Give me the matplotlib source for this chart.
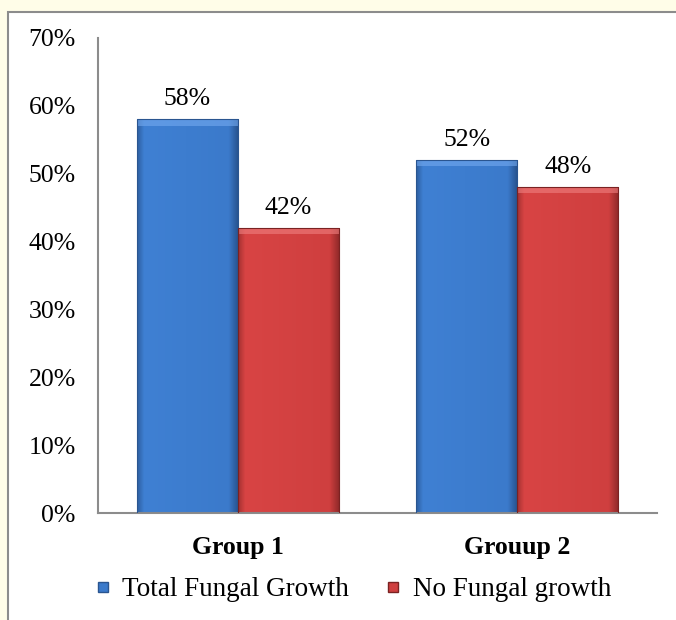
import numpy as np
import matplotlib
matplotlib.use("Agg")
import matplotlib.pyplot as plt
from matplotlib.patches import Rectangle
from matplotlib.lines import Line2D
from matplotlib.colors import LinearSegmentedColormap

groups = ["Group 1", "Grouup 2"]
series_names = ["Total Fungal Growth", "No Fungal growth"]
total_growth = [58, 52]
no_growth = [42, 48]
y_ticks = [0, 10, 20, 30, 40, 50, 60, 70]

plt.rcParams["font.family"] = ["Liberation Serif", "DejaVu Serif"]

fig = plt.figure(figsize=(6.76, 6.2), dpi=100)
fig.patch.set_facecolor("#fffde8")

# white chart area with a grey frame
frame = Rectangle((8 / 676, -0.05), 1.0, 1 - 12 / 620 + 0.05,
                  transform=fig.transFigure, facecolor="white",
                  edgecolor="#8c8c8c", linewidth=1.5, zorder=-5)
fig.patches.append(frame)

ax = fig.add_axes([98 / 676, 1 - 513 / 620, 559 / 676, (513 - 38) / 620])
ax.set_facecolor("none")

x = np.arange(len(groups))
w = 0.362

blue_cmap = LinearSegmentedColormap.from_list(
    "b", [(0, "#2d5e9f"), (0.07, "#3f80d3"), (0.9, "#3b7acb"), (1, "#26508a")])
red_cmap = LinearSegmentedColormap.from_list(
    "r", [(0, "#a33030"), (0.07, "#d84444"), (0.9, "#cf3f3f"), (1, "#8c2828")])

def draw_bars(xs, vals, cmap, edge, top):
    bars = ax.bar(xs, vals, w, color="none", edgecolor=edge, linewidth=0.8, zorder=3)
    grad = np.linspace(0, 1, 256).reshape(1, -1)
    for b in bars:
        x0, y0 = b.get_x(), b.get_y()
        bw, bh = b.get_width(), b.get_height()
        im = ax.imshow(grad, cmap=cmap, aspect="auto",
                       extent=(x0, x0 + bw, y0, y0 + bh), zorder=2)
        im.set_clip_path(b)
        ax.add_patch(Rectangle((x0, y0 + bh - 0.9), bw, 0.9, facecolor=top,
                               edgecolor="none", alpha=0.6, zorder=2.5))
    return bars

b1 = draw_bars(x - w / 2, total_growth, blue_cmap, "#2a5590", "#74aaf0")
b2 = draw_bars(x + w / 2, no_growth, red_cmap, "#7a2222", "#f08080")

for bars, vals in ((b1, total_growth), (b2, no_growth)):
    for b, v in zip(bars, vals):
        ax.text(b.get_x() + b.get_width() / 2, v + 3.0, f"{v}%",
                ha="center", va="center", fontsize=18.5)

ax.set_xlim(-0.5, 1.5)
ax.set_ylim(0, 70)
ax.set_yticks(y_ticks)
ax.set_yticklabels([f"{t}%" for t in y_ticks], fontsize=18.5)
ax.set_xticks(x)
ax.set_xticklabels(groups, fontsize=18.5, fontweight="bold")
ax.tick_params(axis="both", length=0)
ax.tick_params(axis="y", pad=16)
ax.tick_params(axis="x", pad=16.5)
for s in ("top", "right"):
    ax.spines[s].set_visible(False)
for s in ("left", "bottom"):
    ax.spines[s].set_color("#8c8c8c")
    ax.spines[s].set_linewidth(1.5)

handles = [Line2D([], [], linestyle="none", marker="s", markersize=7.5,
                  markerfacecolor="#3b7acb", markeredgecolor="#2a5590"),
           Line2D([], [], linestyle="none", marker="s", markersize=7.5,
                  markerfacecolor="#cf3f3f", markeredgecolor="#7a2222")]
fig.legend(handles, series_names, loc="center", bbox_to_anchor=(354 / 676, 1 - 590 / 620),
           ncol=2, frameon=False, fontsize=19.5, handlelength=0.45,
           handletextpad=0.5, columnspacing=1.4)

fig.savefig("out.png", dpi=100, facecolor=fig.get_facecolor())
